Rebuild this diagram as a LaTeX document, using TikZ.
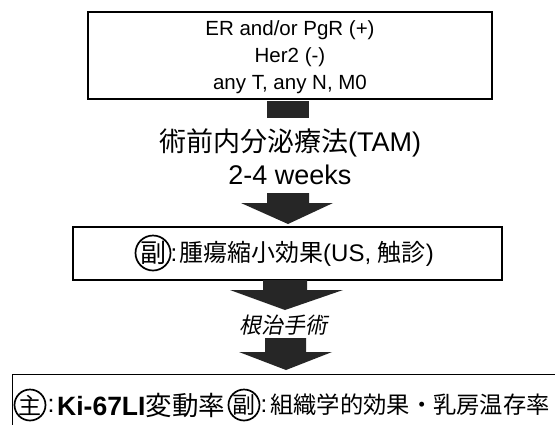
\documentclass[tikz,border=0pt]{standalone}
\usepackage{fontspec}
\setmainfont{Liberation Sans}
\newfontfamily\jp{Noto Sans CJK JP}
\newfontfamily\jpit[FakeSlant=0.2]{Noto Sans CJK JP}
\begin{document}
\begin{tikzpicture}[x=1pt,y=-1pt,
  box/.style={draw, line width=1.3pt, rectangle, inner sep=0pt},
  arrowfill/.style={fill=black!85},
  ring/.style={line width=1.7pt},
  txt/.style={inner sep=0pt},
]
\clip (0,0) rectangle (555,424);
\fill[white] (0,0) rectangle (555,424);

% top box
\node[box, minimum width=404pt, minimum height=87pt] (top) at (290,55.5) {};
\node[txt, align=center, font=\fontsize{20.5}{27}\selectfont] (toptext) at (290,57.5)
  {ER and/or PgR (+)\\Her2 (-)\\any T, any N, M0};
\node[fill=black!85, minimum width=42pt, minimum height=17pt, inner sep=0pt] (stub) at (288,109.5) {};

% treatment text
\node[txt, align=center, font=\fontsize{27}{33}\selectfont] (treat) at (290,157)
  {{\jp 術前内分泌療法}(TAM)\\2-4 weeks};

% arrow 1
\fill[arrowfill] (267,193) -- (309,193) -- (309,203) -- (333,203) -- (288,224) -- (241,203) -- (267,203) -- cycle;

% middle box
\node[box, minimum width=429pt, minimum height=53pt] (mid) at (287.5,253.5) {};
\node[txt, font=\jp\fontsize{26}{26}\selectfont] (m1) at (153,253) {副};
\draw[ring] (m1.center) circle[radius=17.5pt];
\node[txt, font=\fontsize{24}{24}\selectfont] (mc) at (174,255) {:};
\node[txt, anchor=west, font=\fontsize{24}{24}\selectfont] (m2) at (179,253.5)
  {{\jp 腫瘍縮小効果}(US, {\jp 触診})};

% arrow 2
\fill[arrowfill] (263,280) -- (307,280) -- (307,290) -- (343,290) -- (285,310) -- (230,290) -- (263,290) -- cycle;

% surgery
\node[txt, font=\jpit\fontsize{22}{22}\selectfont] (surg) at (283,325) {根治手術};

% arrow 3
\fill[arrowfill] (265,338) -- (306,338) -- (306,352) -- (332,352) -- (286,370) -- (239,352) -- (265,352) -- cycle;

% bottom box
\node[box, anchor=north west, minimum width=600pt, minimum height=90pt] (bot) at (12,374) {};
\node[txt, font=\jp\fontsize{23}{23}\selectfont] (b1) at (30,405) {主};
\draw[ring] (b1.center) circle[radius=15.5pt];
\node[txt, font=\fontsize{25}{25}\selectfont] (bc1) at (51,406) {:};
\node[txt, anchor=west, font=\fontsize{26.5}{26.5}\selectfont] (b2) at (57,405)
  {\textbf{Ki-67LI}{\jp 変動率}};
\node[txt, font=\jp\fontsize{23}{23}\selectfont] (b3) at (244,405) {副};
\draw[ring] (b3.center) circle[radius=15.5pt];
\node[txt, font=\fontsize{24}{24}\selectfont] (bc2) at (264,406) {:};
\node[txt, anchor=west, font=\fontsize{23.3}{23.3}\selectfont] (b4) at (270,405)
  {{\jp 組織学的効果・乳房温存率}};
\end{tikzpicture}
\end{document}
